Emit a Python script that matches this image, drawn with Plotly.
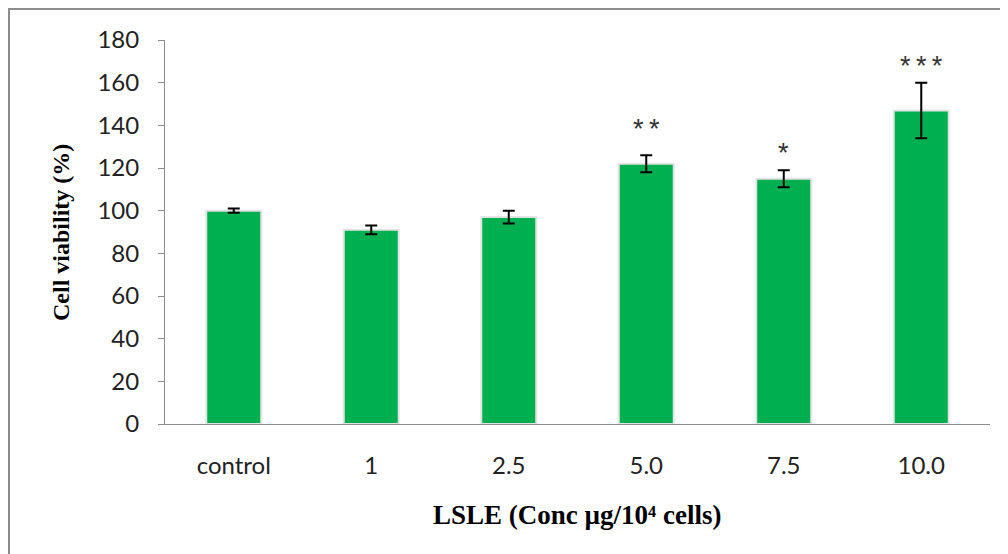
import plotly.graph_objects as go

categories = ["control", "1", "2.5", "5.0", "7.5", "10.0"]
viability = [100, 91, 97, 122, 115, 147]
errors = [1, 2, 3, 4, 4, 13]
significance = ["", "", "", "**", "*", "***"]

OFF = 8  # page body margin
W, H = 1000, 546
L, R, T, B = 165 - OFF, 18, 40 - OFF, 130
pw, ph = W - L - R, H - T - B


def px(xs):
    return (xs - OFF - L) / pw


def py(ys):
    return (H - B - (ys - OFF)) / ph


fig = go.Figure()
fig.add_trace(go.Bar(
    x=list(range(len(categories))), y=viability,
    marker=dict(color="#00b050", line=dict(color="#e3e3e3", width=2)),
    width=0.4,
    error_y=dict(type="data", array=errors, visible=True, color="black", thickness=2, width=6),
    hoverinfo="skip",
))

shifts = {"**": 26, "*": 17, "***": 17}
for i, (v, e, s) in enumerate(zip(viability, errors, significance)):
    if s:
        fig.add_annotation(x=i, y=v + e, text="\u2009".join(s), showarrow=False, yshift=shifts[s],
                           xanchor="center", yanchor="middle",
                           font=dict(family="Liberation Sans", size=27, color="#333"))

# axis titles
fig.add_annotation(xref="paper", yref="paper", x=px(577), y=py(515), xanchor="center", yanchor="middle",
                   text="<b>LSLE (Conc µg/10\u2074 cells)</b>", showarrow=False,
                   font=dict(family="Liberation Serif", size=27, color="black"))
fig.add_annotation(xref="paper", yref="paper", x=px(61), y=py(233), xanchor="center", yanchor="middle",
                   text="<b>Cell viability (%)</b>", showarrow=False, textangle=-90,
                   font=dict(family="Liberation Serif", size=24, color="black"))

# outer border (figure edge)
fig.add_shape(type="rect", xref="paper", yref="paper",
              x0=px(OFF + 1), x1=px(W + OFF + 20), y0=py(H + OFF + 20), y1=py(OFF + 1),
              line=dict(color="#8c8c8c", width=2), fillcolor="rgba(0,0,0,0)", layer="below")

fig.update_layout(
    width=W, height=H,
    margin=dict(l=L, r=R, t=T, b=B),
    paper_bgcolor="white", plot_bgcolor="white",
    showlegend=False,
    xaxis=dict(range=[-0.5, 5.5], tickmode="array", tickvals=list(range(len(categories))),
               ticktext=categories, showline=True, linecolor="#8c8c8c", linewidth=1, ticks="",
               showgrid=False, zeroline=False, automargin=False, ticklabelstandoff=20,
               tickfont=dict(family="Lato", size=24, color="#222")),
    yaxis=dict(range=[0, 180], dtick=20, showline=True, linecolor="#8c8c8c", linewidth=1,
               ticks="outside", ticklen=6, tickcolor="#8c8c8c", showgrid=False, zeroline=False,
               automargin=False, ticklabelstandoff=14,
               tickfont=dict(family="Lato", size=24, color="#222")),
)

fig.write_html("out.html")
